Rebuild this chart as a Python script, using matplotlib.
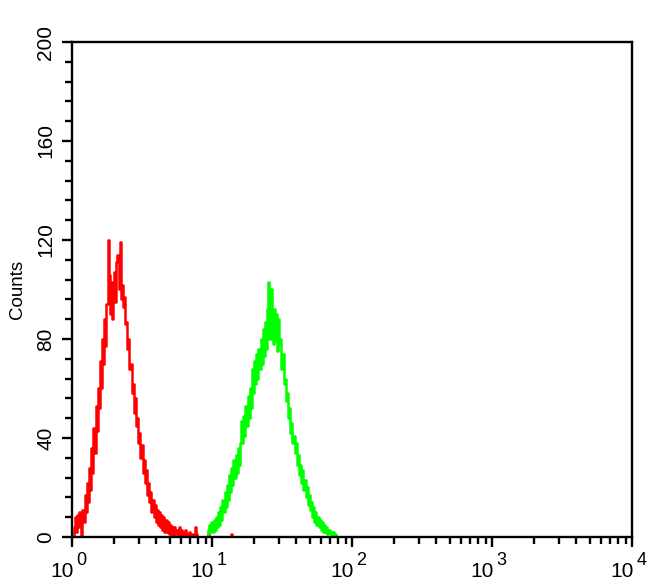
import numpy as np
import matplotlib.pyplot as plt
from matplotlib.ticker import FixedLocator, NullFormatter

# flow histogram, 128 channels per decade over 4 decades
CH_PER_DECADE = 128

red_start = 0
red_counts = [0, 0, 4, 8, 2, 9, 4, 10, 6, 0,
              11, 6, 17, 10, 22, 14, 28, 19, 36, 26,
              44, 34, 53, 43, 60, 52, 71, 60, 80, 70,
              88, 77, 94, 120, 106, 90, 103, 88, 99, 107,
              95, 111, 114, 100, 119, 96, 102, 93, 97, 86,
              87, 76, 80, 68, 70, 58, 62, 50, 56, 45,
              48, 38, 42, 32, 37, 26, 31, 22, 27, 17,
              22, 14, 18, 10, 15, 8, 13, 6, 11, 5,
              10, 4, 9, 3, 8, 2, 7, 2, 6, 1,
              5, 1, 4, 0, 4, 1, 3, 0, 4, 1,
              3, 0, 2, 0, 3, 1, 0, 2, 0, 0,
              1, 0, 0, 4, 1, 0, 0, 0, 0, 0,
              0, 0, 0, 0, 0, 1, 0, 0, 0, 0,
              0, 0, 0, 0, 0, 0, 0, 0, 0, 0,
              0, 0, 0, 0, 0, 0, 1, 0, 0]

green_start = 124
green_counts = [0, 3, 5, 2, 6, 2, 7, 3, 8, 4,
                10, 5, 12, 7, 15, 10, 18, 12, 21, 15,
                25, 18, 28, 21, 31, 24, 33, 26, 36, 29,
                38, 47, 38, 49, 41, 53, 45, 57, 48, 60,
                52, 68, 58, 71, 62, 74, 64, 76, 68, 80,
                70, 84, 73, 87, 76, 92, 103, 80, 100, 86,
                78, 92, 80, 90, 75, 88, 78, 80, 68, 74,
                62, 64, 55, 58, 48, 52, 42, 46, 38, 41,
                34, 38, 29, 33, 25, 29, 22, 27, 19, 23,
                16, 20, 13, 17, 11, 14, 8, 12, 6, 10,
                5, 8, 4, 7, 3, 6, 2, 5, 2, 4,
                1, 3, 1, 2, 0, 2, 1, 1, 0, 0]

y_major = [0, 40, 80, 120, 160, 200]
decades = [0, 1, 2, 3, 4]


def channel_x(start, n):
    ch = np.arange(start, start + n)
    return 10 ** (ch / CH_PER_DECADE)


fig = plt.figure(figsize=(6.5, 5.85), dpi=100)
ax = fig.add_axes([0.1108, 0.0821, 0.8615, 0.8461])

ax.plot(channel_x(red_start, len(red_counts)), red_counts,
        color='#ff0000', lw=1.8, drawstyle='steps-mid')
ax.plot(channel_x(green_start, len(green_counts)), green_counts,
        color='#00ff00', lw=1.8, drawstyle='steps-mid')

ax.set_xscale('log')
ax.set_xlim(1, 1e4)
ax.set_ylim(0, 200)

for s in ax.spines.values():
    s.set_linewidth(1.7)

# y axis
ax.yaxis.set_major_locator(FixedLocator(y_major))
ax.yaxis.set_minor_locator(FixedLocator(np.arange(0, 201, 8)))
ax.set_yticklabels([str(v) for v in y_major], rotation=90, va='center',
                   fontsize=15, family='Liberation Sans')
ax.tick_params(axis='y', which='major', length=7, width=1.7, pad=5)
ax.tick_params(axis='y', which='minor', length=5, width=1.7)
ax.set_ylabel('Counts', fontsize=13.5, family='Liberation Sans')
ax.yaxis.set_label_coords(-0.083, 0.5)

# x axis: decades with 2..9 minor ticks, labels drawn by hand
ax.xaxis.set_major_locator(FixedLocator([10.0 ** d for d in decades]))
minors = [m * 10.0 ** d for d in decades[:-1] for m in range(2, 10)]
ax.xaxis.set_minor_locator(FixedLocator(minors))
ax.xaxis.set_major_formatter(NullFormatter())
ax.xaxis.set_minor_formatter(NullFormatter())
ax.tick_params(axis='x', which='major', length=7, width=1.7)
ax.tick_params(axis='x', which='minor', length=5, width=1.7)

for d in decades:
    ax.annotate('10', xy=(10.0 ** d, 0), xycoords=('data', 'axes fraction'),
                xytext=(1.5, -28.5), textcoords='offset points',
                ha='right', va='baseline', fontsize=15, family='Liberation Sans')
    ax.annotate(str(d), xy=(10.0 ** d, 0), xycoords=('data', 'axes fraction'),
                xytext=(3, -20), textcoords='offset points',
                ha='left', va='baseline', fontsize=13, family='Liberation Sans')

fig.savefig('out.png', dpi=100)
